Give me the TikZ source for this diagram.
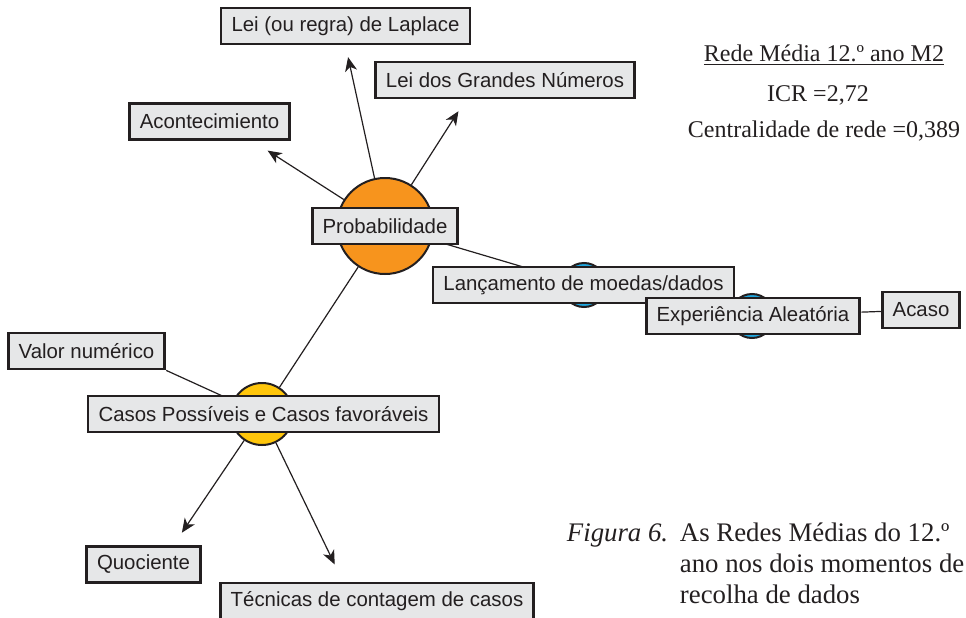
\documentclass[tikz,border=0pt]{standalone}
\usepackage{fontspec}
\setmainfont{Liberation Serif}
\setsansfont{Liberation Sans}
\usetikzlibrary{arrows.meta}
\definecolor{hubOrange}{HTML}{F7941D}
\definecolor{hubYellow}{HTML}{FFC60B}
\definecolor{hubBlue}{HTML}{1FA6DE}
\definecolor{boxGrey}{HTML}{E6E7E8}
\definecolor{inkGrey}{HTML}{231F20}
\begin{document}
\begin{tikzpicture}[x=1pt, y=-1pt, line width=1.2pt, color=inkGrey,
  >={Stealth[length=14pt,width=12pt,inset=4pt]},
  hub/.style={circle,draw=inkGrey,line width=2pt,inner sep=0pt},
  concept/.style={rectangle,draw=inkGrey,fill=boxGrey,line width=2.8pt,minimum height=36pt,inner xsep=10.5pt,inner ysep=0pt,font=\sffamily\fontsize{20.4}{24}\selectfont},
  caption/.style={font=\fontsize{24}{28}\selectfont,anchor=base}]
\useasboundingbox (0,0) rectangle (966,618);
% hubs
\node [hub,fill=hubOrange,minimum size=96pt](prob c) at (385,226) {};
\node [hub,fill=hubYellow,minimum size=62pt](casos c) at (262,414) {};
\node [hub,fill=hubBlue,minimum size=44pt](lanc c) at (584,285) {};
\node [hub,fill=hubBlue,minimum size=44pt](exp c) at (752,316) {};
\node [concept](valor) at (86.5,351) {Valor numérico};
\path
	(prob c) edge (casos c)
	         edge (lanc c)
	(lanc c) edge (exp c)
	(valor.south east) edge (casos c)
	;
% concepts
\node [concept](prob) at (385,226) {Probabilidade};
\node [concept](laplace) at (345.5,26) {Lei (ou regra) de Laplace};
\node [concept](lgn) at (505,80) {Lei dos Grandes Números};
\node [concept](acont) at (209.5,121.5) {Acontecimiento};
\node [concept](lanc) at (583.5,285) {Lançamento de moedas/dados};
\node [concept](exp) at (753,316) {Experiência Aleatória};
\node [concept](acaso) at (921,310) {Acaso};
\node [concept](casos) at (263.5,414) {Casos Possíveis e Casos favoráveis};
\node [concept](quoc) at (143.5,564.5) {Quociente};
\node [concept](tecn) at (377,601) {Técnicas de contagem de casos};
\path [->]
	(prob c) edge [shorten >=18pt] ([xshift=43pt]acont.south)
	         edge [shorten >=12pt] (laplace.south)
	         edge [shorten >=14pt] ([xshift=-39pt]lgn.south)
	(casos c) edge [shorten >=15pt] ([xshift=30pt]quoc.north)
	          edge [shorten >=19pt] ([xshift=-34pt]tecn.north)
	;
\path (exp) edge (acaso);
% texts
\node [caption](titulo) at (824,62) {\underline{Rede Média 12.º ano M2}};
\node [caption](icr) at (818,101) {ICR =2,72};
\node [caption](centr) at (824,137) {Centralidade de rede =0,389};
\begin{scope}[every node/.style={anchor=base west,font=\fontsize{26.8}{31}\selectfont}]
\node (fig) at (563,541) {\textit{Figura 6.}};
\node (fig l1) at (676,541) {As Redes Médias do 12.º};
\node (fig l2) at (676,572) {ano nos dois momentos de};
\node (fig l3) at (676,603) {recolha de dados};
\end{scope}
\end{tikzpicture}
\end{document}
